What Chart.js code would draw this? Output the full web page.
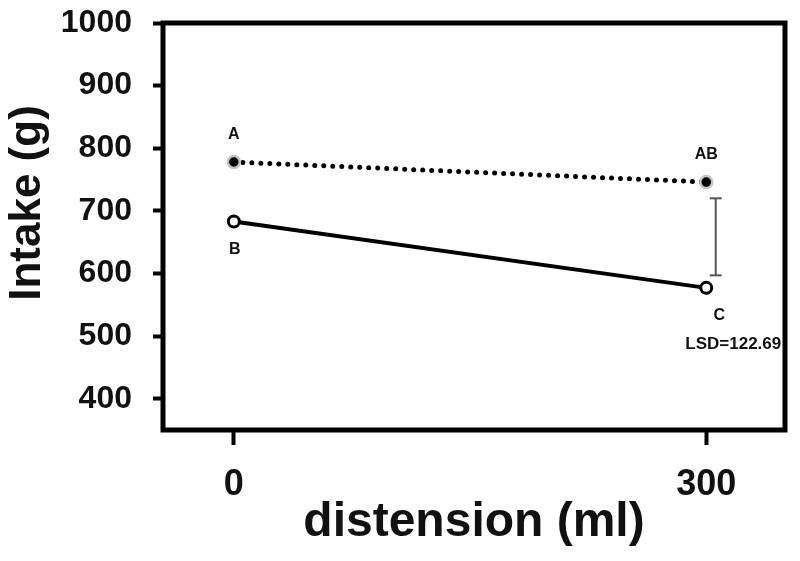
<!DOCTYPE html>
<html>
<head>
<meta charset="utf-8">
<script src="https://cdn.jsdelivr.net/npm/chart.js@4"></script>
<style>
  html, body { margin: 0; padding: 0; background: #fff; }
  #wrap { width: 800px; height: 561px; }
</style>
</head>
<body>
<div id="wrap"><canvas id="chart"></canvas></div>
<script>
const distension = [0, 300];
const controlIntake = [778, 746];   // dotted line, filled dots
const treatedIntake = [683, 577];   // solid line, open circles
const controlLetters = ["A", "AB"];
const treatedLetters = ["B", "C"];
const lsdX = [306, 306];
const lsdBar = [597, 720];
const lsdText = "LSD=122.69";
const yTicks = [400, 500, 600, 700, 800, 900, 1000];
const xTicks = [0, 300];
const yTitle = "Intake (g)";
const xTitle = "distension (ml)";

const FONT = "'Liberation Sans', Arial, sans-serif";
const INK = "#111";

const toPoints = (xs, ys) => xs.map((x, i) => ({ x: x, y: ys[i] }));

// frame, letters, LSD note and the y title
const annotate = {
  id: "annotate",
  afterDraw(chart) {
    const { ctx, chartArea: a, scales: { x, y } } = chart;
    ctx.save();
    ctx.lineWidth = 5;
    ctx.strokeStyle = "#000";
    ctx.strokeRect(a.left, a.top, a.right - a.left, a.bottom - a.top);

    ctx.fillStyle = INK;
    ctx.textAlign = "center";
    ctx.textBaseline = "middle";
    ctx.font = "bold 16px " + FONT;
    distension.forEach((d, i) => {
      const px = x.getPixelForValue(d);
      ctx.fillText(controlLetters[i], px, y.getPixelForValue(controlIntake[i]) - 27);
      ctx.fillText(treatedLetters[i], px + (i ? 13 : 1), y.getPixelForValue(treatedIntake[i]) + 28);
    });
    ctx.font = "bold 17px " + FONT;
    ctx.fillText(lsdText, x.getPixelForValue(distension[1]) + 27, y.getPixelForValue(treatedIntake[1]) + 56);

    ctx.font = "bold 44px " + FONT;
    ctx.translate(28, 203);
    ctx.rotate(-Math.PI / 2);
    ctx.fillText(yTitle, 0, 0);
    ctx.restore();
  }
};

new Chart(document.getElementById("chart"), {
  type: "line",
  data: {
    datasets: [
      {
        data: toPoints(distension, controlIntake),
        borderColor: "#000",
        borderWidth: 5,
        borderDash: [0, 9],
        borderCapStyle: "round",
        pointRadius: 6,
        pointBackgroundColor: "#000",
        pointBorderColor: "#c4c4c4",
        pointBorderWidth: 2.5
      },
      {
        data: toPoints(lsdX, lsdBar),
        borderColor: "#555",
        borderWidth: 2,
        pointStyle: "line",
        pointRadius: 6,
        pointBorderColor: "#555",
        pointBorderWidth: 2
      },
      {
        data: toPoints(distension, treatedIntake),
        borderColor: "#000",
        borderWidth: 4,
        pointRadius: 5.5,
        pointBackgroundColor: "#fff",
        pointBorderColor: "#000",
        pointBorderWidth: 3
      }
    ]
  },
  options: {
    responsive: true,
    maintainAspectRatio: false,
    animation: false,
    layout: { padding: { top: 23, right: 15, left: 0, bottom: 0 } },
    plugins: { legend: { display: false }, tooltip: { enabled: false } },
    scales: {
      x: {
        type: "linear",
        min: -45,
        max: 350,
        afterBuildTicks: s => { s.ticks = xTicks.map(v => ({ value: v })); },
        afterFit: s => { s.height = 131; s.paddingLeft = 0; s.paddingRight = 0; },
        border: { display: false },
        grid: { drawOnChartArea: false, tickLength: 15, tickWidth: 4, tickColor: "#000" },
        ticks: { color: INK, padding: 18, font: { family: FONT, size: 36, weight: "bold" } },
        title: { display: true, text: xTitle, color: INK, padding: { top: 0, bottom: 9 },
                 font: { family: FONT, size: 48, weight: "bold" } }
      },
      y: {
        min: 350,
        max: 1000,
        afterBuildTicks: s => { s.ticks = yTicks.map(v => ({ value: v })); },
        afterFit: s => { s.width = 163; s.paddingTop = 0; s.paddingBottom = 0; },
        border: { display: false },
        grid: { drawOnChartArea: false, tickLength: 10, tickWidth: 4, tickColor: "#000" },
        ticks: { color: INK, padding: 21, callback: v => String(v),
                 font: { family: FONT, size: 32, weight: "bold" } }
      }
    }
  },
  plugins: [annotate]
});
</script>
</body>
</html>
